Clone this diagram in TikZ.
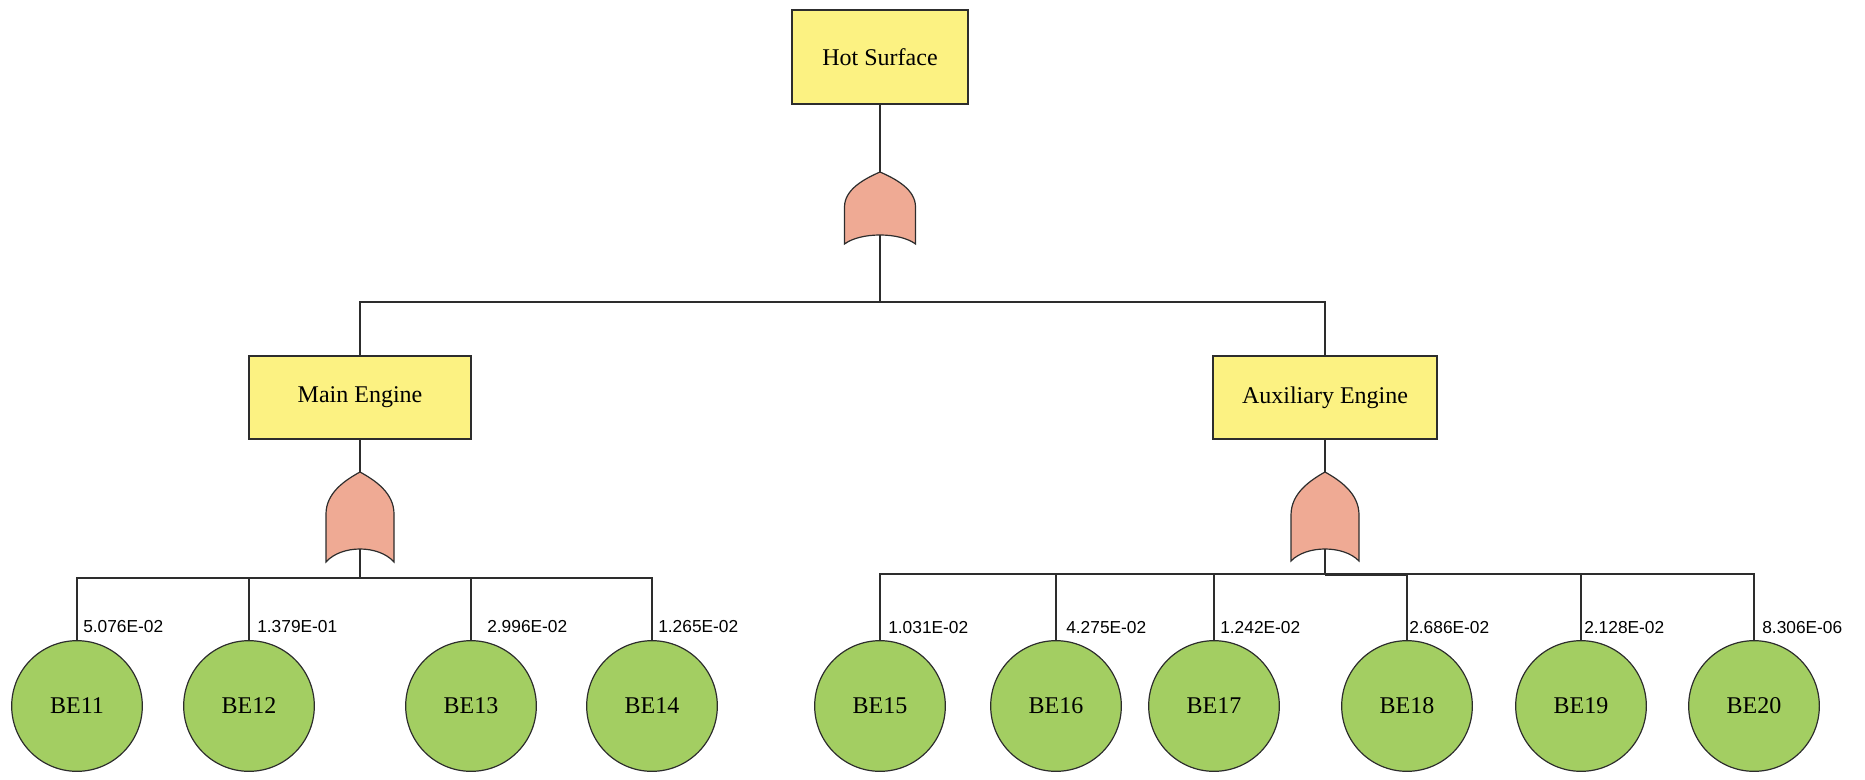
\documentclass[tikz,border=0pt]{standalone}
\usepackage{fontspec}
\setmainfont{Liberation Serif}
\newfontfamily\lblfont{Liberation Sans}
\definecolor{boxyel}{RGB}{252,242,130}
\definecolor{gatesal}{RGB}{239,170,148}
\definecolor{leafgrn}{RGB}{163,206,98}
\definecolor{edge}{RGB}{45,45,45}
% OR gate: #1 name, #2 cx, #3 tip y, #4 side y, #5 bottom y, #6 apex y, #7 half width
\newcommand\orgate[7]{%
  \pgfmathsetmacro\gL{#2-#7}\pgfmathsetmacro\gR{#2+#7}%
  \pgfmathsetmacro\gcA{#4-0.5*(#4-#3)}\pgfmathsetmacro\gcB{#3+0.2*(#4-#3)}%
  \pgfmathsetmacro\gxA{#2-0.45*#7}\pgfmathsetmacro\gxB{#2+0.45*#7}%
  \pgfmathsetmacro\gcc{(4*#6-#5)/3}%
  \pgfmathsetmacro\gxC{#2+0.55*#7}\pgfmathsetmacro\gxD{#2-0.55*#7}%
  \draw[gatestyle] (\gL,#5) -- (\gL,#4) .. controls (\gL,\gcA) and (\gxA,\gcB) .. (#2,#3)
     .. controls (\gxB,\gcB) and (\gR,\gcA) .. (\gR,#4) -- (\gR,#5)
     .. controls (\gxC,\gcc) and (\gxD,\gcc) .. cycle;
  \coordinate (#1top) at (#2,#3);
  \coordinate (#1bot) at (#2,#6);
}
\tikzset{
  evbox/.style={draw=edge, fill=boxyel, line width=1.1pt, rectangle, inner sep=0pt,
    font=\fontsize{18}{20}\selectfont},
  leaf/.style={draw=edge, fill=leafgrn, line width=0.9pt, circle, inner sep=0pt,
    minimum size=98pt, font=\fontsize{18}{20}\selectfont},
  gatestyle/.style={draw=edge, fill=gatesal, line width=0.9pt},
  wire/.style={draw=edge, line width=1.2pt},
  lbl/.style={anchor=west, inner sep=0pt, font=\lblfont\fontsize{13}{15}\selectfont}
}
\begin{document}
\begin{tikzpicture}[x=0.75pt, y=-0.75pt]
\useasboundingbox (0,0) rectangle (1865,780);
% event boxes
\node[evbox, minimum width=132pt, minimum height=70.5pt] (hot) at (880,57) {Hot Surface};
\node[evbox, minimum width=166.5pt, minimum height=62pt] (main) at (360,397.5) {Main Engine};
\node[evbox, minimum width=168pt, minimum height=62pt] (aux) at (1325,397.5) {Auxiliary Engine};
% gates
\orgate{ga}{880}{172}{207}{244}{235}{35.5}
\orgate{gb}{360}{472}{514}{562}{549}{34}
\orgate{gc}{1325}{472}{515}{561}{549}{34}
% junctions
\coordinate (j1) at (880,302);
\coordinate (j2) at (360,578);
\coordinate (j3) at (1325,574);
% leaves
\node[leaf] (be11) at (77,706) {BE11};
\node[leaf] (be12) at (249,706) {BE12};
\node[leaf] (be13) at (471,706) {BE13};
\node[leaf] (be14) at (652,706) {BE14};
\node[leaf] (be15) at (880,706) {BE15};
\node[leaf] (be16) at (1056,706) {BE16};
\node[leaf] (be17) at (1214,706) {BE17};
\node[leaf] (be18) at (1407,706) {BE18};
\node[leaf] (be19) at (1581,706) {BE19};
\node[leaf] (be20) at (1754,706) {BE20};
% wires
\draw[wire] (hot.south) -- (gatop);
\draw[wire] (gabot) -- (j1);
\draw[wire] (main.north) |- (j1);
\draw[wire] (aux.north) |- (j1);
\draw[wire] (main.south) -- (gbtop);
\draw[wire] (aux.south) -- (gctop);
\draw[wire] (gbbot) -- (j2);
\draw[wire] (gcbot) -- (j3);
\foreach \b in {be11,be12,be13,be14} \draw[wire] (\b.north) |- (j2);
\foreach \b in {be15,be16,be17,be18,be19,be20} \draw[wire] (\b.north) |- (j3);
\draw[wire, line width=1.3pt] ([yshift=-0.9pt]j3) -- ([yshift=-0.9pt]j3 -| be18.north);
% probability labels
\node[lbl] (l11) at (83,627) {5.076E-02};
\node[lbl] (l12) at (257,627) {1.379E-01};
\node[lbl] (l13) at (487,627) {2.996E-02};
\node[lbl] (l14) at (658,627) {1.265E-02};
\node[lbl] (l15) at (888,628) {1.031E-02};
\node[lbl] (l16) at (1066,628) {4.275E-02};
\node[lbl] (l17) at (1220,628) {1.242E-02};
\node[lbl] (l18) at (1409,628) {2.686E-02};
\node[lbl] (l19) at (1584,628) {2.128E-02};
\node[lbl] (l20) at (1762,628) {8.306E-06};
\end{tikzpicture}
\end{document}
